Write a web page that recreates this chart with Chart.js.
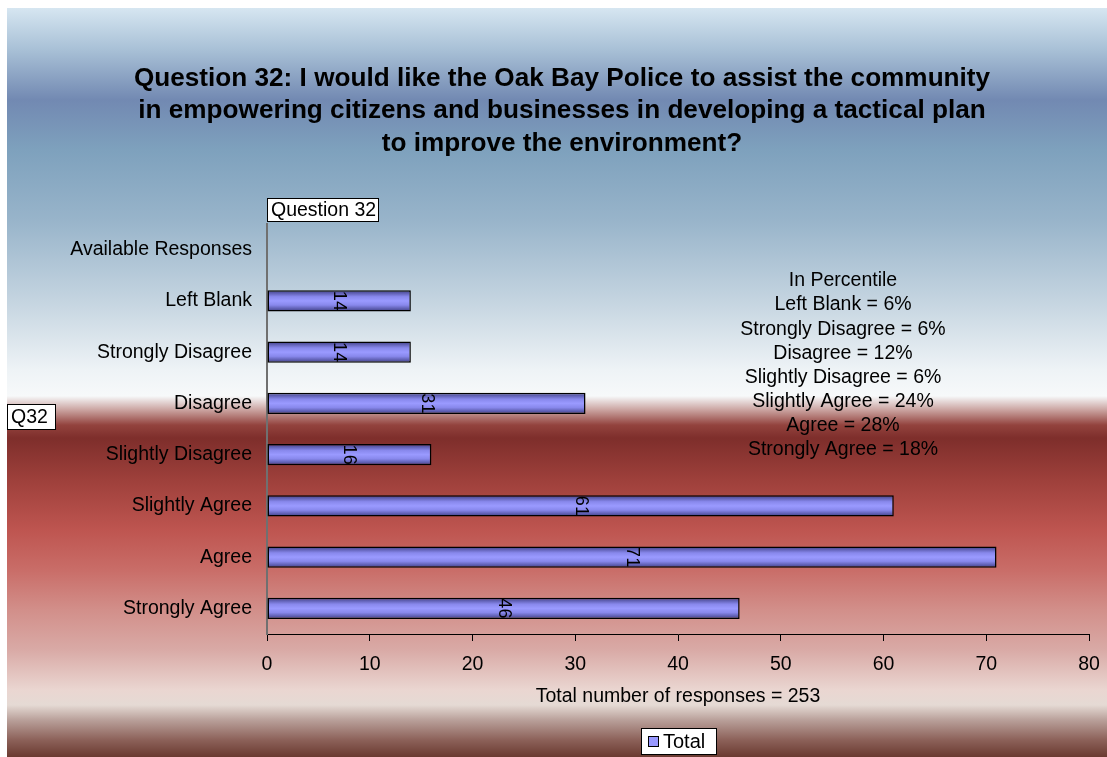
<!DOCTYPE html>
<html>
<head>
<meta charset="utf-8">
<script src="https://cdn.jsdelivr.net/npm/chart.js@4.4.1/dist/chart.umd.min.js"></script>
<style>
  html, body { margin: 0; padding: 0; background: #fff; }
  #wrap { width: 1107px; height: 757px; }
</style>
</head>
<body>
<div id="wrap"><canvas id="chart" width="1107" height="757"></canvas></div>
<script>
// --- Data ---
const categories = [
    'Available Responses', 'Left Blank', 'Strongly Disagree', 'Disagree',
    'Slightly Disagree', 'Slightly Agree', 'Agree', 'Strongly Agree'
];
const totals = [null, 14, 14, 31, 16, 61, 71, 46];
const xTicks = [0, 10, 20, 30, 40, 50, 60, 70, 80];
const titleLines = [
    'Question 32: I would like the Oak Bay Police to assist the community',
    'in empowering citizens and businesses in developing a tactical plan',
    'to improve the environment?'
];
const percentLines = [
    'In Percentile',
    'Left Blank = 6%',
    'Strongly Disagree = 6%',
    'Disagree = 12%',
    'Slightly Disagree = 6%',
    'Slightly Agree = 24%',
    'Agree = 28%',
    'Strongly Agree = 18%'
];
const xTitle = 'Total number of responses = 253';
const seriesName = 'Total';
const boxTitle = 'Question 32';
const sideTag = 'Q32';

const FONT = '"Liberation Sans", Arial, sans-serif';

// --- Background gradient behind everything ---
const backdrop = {
    id: 'backdrop',
    beforeDraw(chart) {
        const { ctx, width, height } = chart;
        ctx.save();
        ctx.fillStyle = '#ffffff';
        ctx.fillRect(0, 0, width, height);
        const top = 8, bottom = height;
        const g = ctx.createLinearGradient(0, top, 0, bottom);
        const stops = [
            [8, '#d6e6f1'], [50, '#a8c0d6'], [100, '#7289b2'], [150, '#7ea1bd'],
            [220, '#98b4ca'], [300, '#c4d4e0'], [370, '#eef3f6'], [396, '#f7f9fa'],
            [410, '#caa3a0'], [425, '#93433e'], [438, '#7e2e2b'], [480, '#9e403b'],
            [530, '#be5550'], [570, '#c96d68'], [610, '#d28f8a'], [650, '#d9aaa6'],
            [690, '#ead6d1'], [705, '#e5dad4'], [720, '#b9a09a'], [740, '#8c6159'],
            [757, '#6a3a30']
        ];
        stops.forEach(([y, c]) => g.addColorStop((y - top) / (bottom - top), c));
        ctx.fillStyle = g;
        ctx.fillRect(7, top, width - 7, bottom - top);
        ctx.restore();
    }
};

// --- Rotated value labels in the middle of each bar ---
const barLabels = {
    id: 'barLabels',
    afterDatasetsDraw(chart) {
        const { ctx } = chart;
        const meta = chart.getDatasetMeta(0);
        ctx.save();
        ctx.font = '18px ' + FONT;
        ctx.fillStyle = '#000';
        ctx.textAlign = 'center';
        ctx.textBaseline = 'middle';
        meta.data.forEach((bar, i) => {
            const v = chart.data.datasets[0].data[i];
            if (v == null) return;
            ctx.save();
            ctx.translate((bar.base + bar.x) / 2, bar.y);
            ctx.rotate(Math.PI / 2);
            ctx.fillText(String(v), 0, 0);
            ctx.restore();
        });
        ctx.restore();
    }
};

// --- Title, text boxes, percent notes and legend ---
function textBox(ctx, text, x, y, w, h) {
    ctx.fillStyle = '#fff';
    ctx.fillRect(x, y, w, h);
    ctx.strokeStyle = '#000';
    ctx.lineWidth = 1;
    ctx.strokeRect(x + 0.5, y + 0.5, w - 1, h - 1);
    ctx.fillStyle = '#000';
    ctx.textAlign = 'left';
    ctx.textBaseline = 'middle';
    ctx.fillText(text, x + 4, y + h / 2 + 1);
}

const overlay = {
    id: 'overlay',
    afterDraw(chart) {
        const { ctx } = chart;
        ctx.save();
        ctx.fillStyle = '#000';
        ctx.textAlign = 'center';
        ctx.textBaseline = 'middle';
        ctx.font = 'bold 24px ' + FONT;
        titleLines.forEach((t, i) => {
            ctx.save();
            ctx.translate(562, 79 + i * 32.5);
            ctx.scale(1.09, 1.05);
            ctx.fillText(t, 0, 0);
            ctx.restore();
        });

        ctx.font = '19.5px ' + FONT;
        percentLines.forEach((t, i) => ctx.fillText(t, 843, 281 + i * 24.1));

        textBox(ctx, boxTitle, 267, 198, 112, 24);
        textBox(ctx, sideTag, 7, 404, 49, 26);

        // legend
        const lx = 641, ly = 728, lw = 76, lh = 27;
        ctx.fillStyle = '#fff';
        ctx.fillRect(lx, ly, lw, lh);
        ctx.strokeStyle = '#000';
        ctx.strokeRect(lx + 0.5, ly + 0.5, lw - 1, lh - 1);
        ctx.fillStyle = '#9999ff';
        ctx.fillRect(648, 736, 11, 11);
        ctx.strokeRect(648.5, 736.5, 10, 10);
        ctx.fillStyle = '#000';
        ctx.textAlign = 'left';
        ctx.font = '20px ' + FONT;
        ctx.fillText(seriesName, 663, ly + lh / 2 + 1);
        ctx.restore();
    }
};

function barFill(context) {
    const chart = context.chart;
    const y = chart.scales.y;
    if (!y || context.dataIndex == null) return '#9999ff';
    const cy = y.getPixelForValue(context.dataIndex);
    if (!Number.isFinite(cy)) return '#9999ff';
    const h = 21;
    const g = chart.ctx.createLinearGradient(0, cy - h / 2, 0, cy + h / 2);
    g.addColorStop(0, '#3f3f85');
    g.addColorStop(0.3, '#8888ec');
    g.addColorStop(0.5, '#9a9aff');
    g.addColorStop(0.7, '#8888ec');
    g.addColorStop(1, '#3f3f85');
    return g;
}

const ctx = document.getElementById('chart').getContext('2d');
new Chart(ctx, {
    type: 'bar',
    data: {
        labels: categories,
        datasets: [{
            label: seriesName,
            data: totals,
            backgroundColor: barFill,
            borderColor: '#000',
            borderWidth: 1.5,
            borderSkipped: false,
            barPercentage: 0.41,
            categoryPercentage: 1
        }]
    },
    options: {
        indexAxis: 'y',
        responsive: false,
        animation: false,
        layout: { padding: { top: 224, right: 18, bottom: 0, left: 0 } },
        plugins: {
            legend: { display: false },
            tooltip: { enabled: false }
        },
        scales: {
            x: {
                type: 'linear',
                min: xTicks[0],
                max: xTicks[xTicks.length - 1],
                afterBuildTicks: s => { s.ticks = xTicks.map(v => ({ value: v })); },
                afterFit: s => { s.height = 123; s.paddingRight = 0; },
                grid: { display: true, drawOnChartArea: false, drawTicks: true, tickLength: 7, color: '#000', lineWidth: 1 },
                border: { display: true, color: '#000', width: 1 },
                ticks: { color: '#000', padding: 12, font: { family: FONT, size: 19.5 } },
                title: {
                    display: true,
                    text: xTitle,
                    color: '#000',
                    font: { family: FONT, size: 19.5 },
                    padding: { top: 0, bottom: 49 }
                }
            },
            y: {
                type: 'category',
                afterFit: s => { s.width = 267; },
                grid: { display: false, drawTicks: false },
                border: { display: true, color: '#707070', width: 2 },
                ticks: { color: '#000', padding: 15, font: { family: FONT, size: 19.5 } }
            }
        }
    },
    plugins: [backdrop, barLabels, overlay]
});
</script>
</body>
</html>
